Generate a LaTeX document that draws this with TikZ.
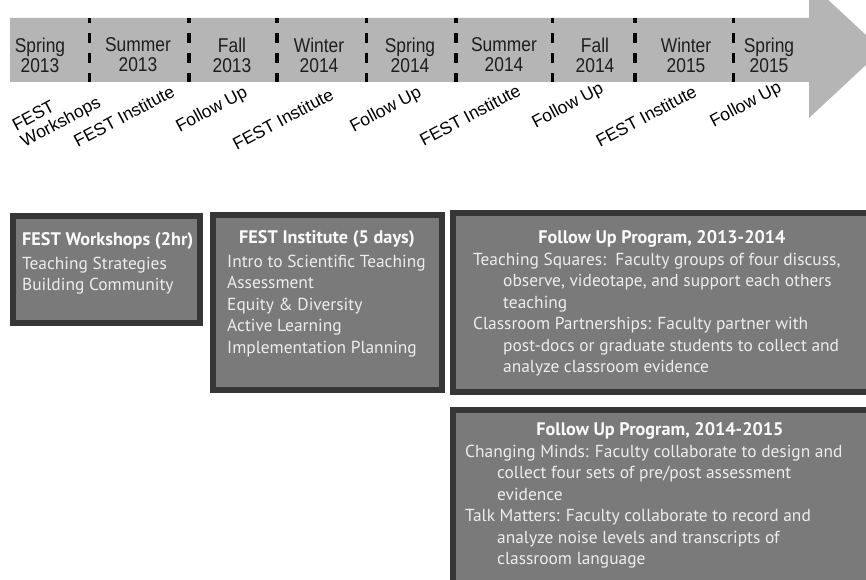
\documentclass[tikz,border=0pt]{standalone}
\usepackage{fontspec}
\newfontfamily\narrowfont[FakeStretch=0.87]{Liberation Sans}
\newfontfamily\labelfont{Liberation Sans}
\newfontfamily\boxfont{PT Sans}
\definecolor{bandgray}{HTML}{B5B5B5}
\definecolor{boxfill}{HTML}{7A7A7A}
\definecolor{boxborder}{HTML}{363636}
\definecolor{boxtext}{HTML}{EDEDED}
\definecolor{titletext}{HTML}{FAFAFA}
\definecolor{seasontext}{HTML}{1E1E1E}
\begin{document}
\begin{tikzpicture}[x=1pt,y=-1pt,
  season/.style={font=\narrowfont\fontsize{20}{20}\selectfont, align=center, text=seasontext, inner sep=0pt},
  phase/.style={font=\labelfont\fontsize{17.5}{18}\selectfont, rotate=28, anchor=center, inner sep=0pt, text=black},
  divider/.style={line width=3.5pt, black, dash pattern=on 10pt off 10pt, dash phase=5pt},
  progbox/.style={draw=boxborder, fill=boxfill, line width=6pt, inner sep=0pt},
  boxtitle/.style={font=\boxfont\bfseries\fontsize{18.2}{21.5}\selectfont, text=titletext, anchor=base, inner sep=0pt},
  boxbody/.style={font=\boxfont\fontsize{17.4}{21.5}\selectfont, text=boxtext, align=left, anchor=north west, inner sep=0pt}
]
\useasboundingbox (0,0) rectangle (866,580);
\clip (0,0) rectangle (866,580);

% timeline arrow
\fill[bandgray] (10,18) -- (809,18) -- (809,-18) -- (882,50) -- (809,118) -- (809,82) -- (10,82) -- cycle;

% dividers
\foreach \x in {89.5,189,277,366.5,456,552.5,635,733.5}
  \draw[divider] (\x,18) -- (\x,82);

% seasons
\node[season] (s1) at (40,55) {Spring\\2013};
\node[season] (s2) at (138,55) {Summer\\2013};
\node[season] (s3) at (232,55) {Fall\\2013};
\node[season] (s4) at (319,55) {Winter\\2014};
\node[season] (s5) at (410,55) {Spring\\2014};
\node[season] (s6) at (504,55) {Summer\\2014};
\node[season] (s7) at (595,55) {Fall\\2014};
\node[season] (s8) at (686,55) {Winter\\2015};
\node[season] (s9) at (769,55) {Spring\\2015};

% phase labels
\node[phase, align=left] (p0) at (57,115) {FEST\\Workshops};
\node[phase] (p1) at (124,116) {FEST Institute};
\node[phase] (p2) at (212,110) {Follow Up};
\node[phase] (p3) at (283,119) {FEST Institute};
\node[phase] (p4) at (386,110) {Follow Up};
\node[phase] (p5) at (470,115) {FEST Institute};
\node[phase] (p6) at (568,106) {Follow Up};
\node[phase] (p7) at (646,116) {FEST Institute};
\node[phase] (p8) at (746,105) {Follow Up};

% program boxes
\node[progbox, minimum width=187pt, minimum height=107pt] (b1) at (106.5,269.5) {};
\node[progbox, minimum width=229pt, minimum height=175pt] (b2) at (327.5,302.5) {};
\node[progbox, minimum width=420pt, minimum height=179pt] (b3) at (663,302.5) {};
\node[progbox, minimum width=420pt, minimum height=180pt] (b4) at (663,500) {};

% box 1 text
\node[boxtitle, anchor=base west] (h1) at (22,245) {FEST Workshops (2hr)};
\node[boxbody] (t1) at (22,254) {\strut Teaching Strategies\\Building Community};

% box 2 text
\node[boxtitle] (h2) at (327,243) {FEST Institute (5 days)};
\node[boxbody] (t2) at (227,252) {\strut Intro to Scientific Teaching\\Assessment\\Equity \& Diversity\\Active Learning\\Implementation Planning};

% box 3 text
\node[boxtitle] (h3) at (662,243) {Follow Up Program, 2013-2014};
\node[boxbody] (t3) at (473,250) {\strut Teaching Squares:\ \ Faculty groups of four discuss,\\
\hspace*{30pt}observe, videotape, and support each others\\
\hspace*{30pt}teaching\\
Classroom Partnerships: Faculty partner with\\
\hspace*{30pt}post-docs or graduate students to collect and\\
\hspace*{30pt}analyze classroom evidence};

% box 4 text
\node[boxtitle] (h4) at (660,435) {Follow Up Program, 2014-2015};
\node[boxbody] (t4) at (465,442) {\strut Changing Minds: Faculty collaborate to design and\\
\hspace*{32pt}collect four sets of pre/post assessment\\
\hspace*{32pt}evidence\\
Talk Matters: Faculty collaborate to record and\\
\hspace*{32pt}analyze noise levels and transcripts of\\
\hspace*{32pt}classroom language};
\end{tikzpicture}
\end{document}
